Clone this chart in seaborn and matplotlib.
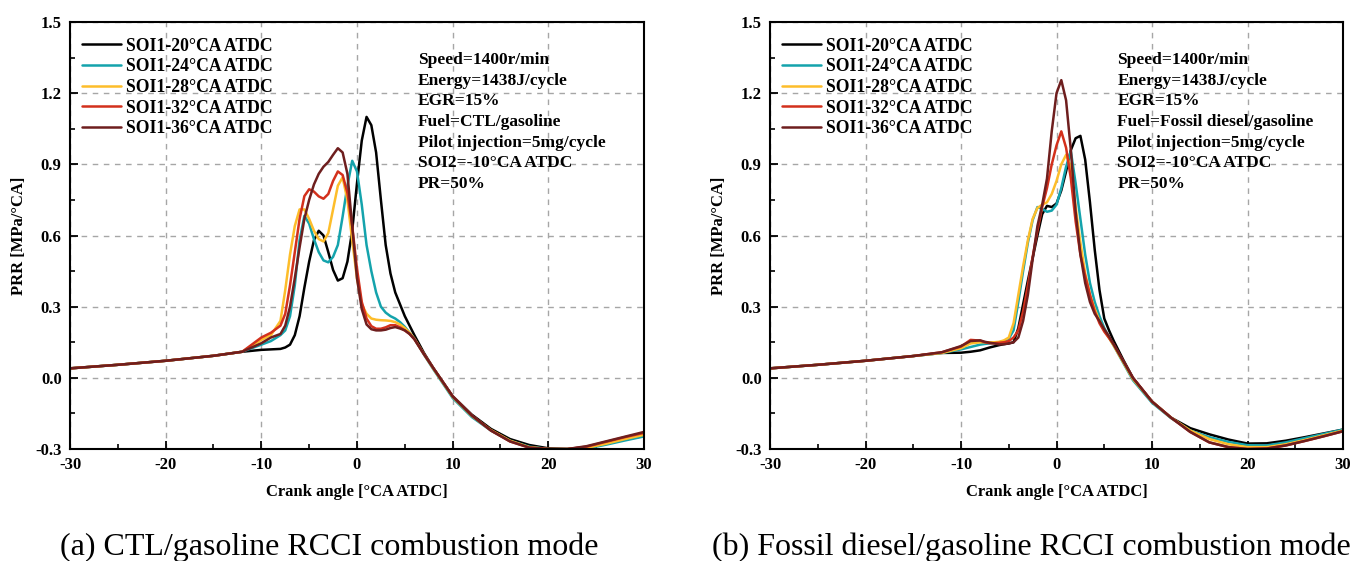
import numpy as np
import pandas as pd
import matplotlib
matplotlib.use("Agg")
import matplotlib.pyplot as plt
from matplotlib.ticker import MultipleLocator, AutoMinorLocator, FormatStrFormatter
import seaborn as sns

# ---------------- data ----------------
# crank angle grid: baseline segment, combustion segment, tail segment
x_base = [-30, -25, -20, -15, -12, -10, -9, -8]
x_peak = [-7.5, -7, -6.5, -6, -5.5, -5, -4.5, -4, -3.5, -3, -2.5, -2, -1.5, -1, -0.5,
          0, 0.5, 1, 1.5, 2, 2.5, 3, 3.5, 4, 4.5, 5, 5.5, 6]
x_tail = [7, 8, 10, 12, 14, 16, 18, 20, 22, 24, 26, 28, 30]
crank_angle = x_base + x_peak + x_tail

series_labels = ["SOI1-20°CA ATDC", "SOI1-24°CA ATDC", "SOI1-28°CA ATDC",
                 "SOI1-32°CA ATDC", "SOI1-36°CA ATDC"]

# (a) CTL/gasoline
ctl_soi20 = ([0.040, 0.055, 0.072, 0.093, 0.110, 0.118, 0.120, 0.122] +
             [0.128, 0.14, 0.18, 0.26, 0.38, 0.49, 0.58, 0.62, 0.60, 0.53, 0.455, 0.41, 0.42, 0.49,
              0.62, 0.82, 1.00, 1.10, 1.065, 0.95, 0.75, 0.56, 0.44, 0.36, 0.31, 0.26, 0.22, 0.18] +
             [0.105, 0.04, -0.077, -0.155, -0.215, -0.258, -0.283, -0.297, -0.30, -0.292, -0.275, -0.26, -0.245])
ctl_soi24 = ([0.040, 0.055, 0.072, 0.093, 0.110, 0.140, 0.155, 0.180] +
             [0.20, 0.26, 0.39, 0.58, 0.683, 0.65, 0.585, 0.53, 0.495, 0.487, 0.51, 0.56, 0.68, 0.81,
              0.915, 0.87, 0.73, 0.56, 0.45, 0.36, 0.30, 0.275, 0.26, 0.25, 0.235, 0.215, 0.19, 0.165] +
             [0.098, 0.035, -0.085, -0.165, -0.222, -0.265, -0.29, -0.30, -0.30, -0.298, -0.282, -0.264, -0.247])
ctl_soi28 = ([0.040, 0.055, 0.072, 0.093, 0.110, 0.160, 0.180, 0.240] +
             [0.37, 0.52, 0.64, 0.71, 0.71, 0.67, 0.62, 0.585, 0.575, 0.61, 0.71, 0.81, 0.845, 0.75,
              0.58, 0.42, 0.31, 0.27, 0.25, 0.245, 0.243, 0.242, 0.24, 0.235, 0.225, 0.21, 0.19, 0.165] +
             [0.10, 0.038, -0.08, -0.16, -0.22, -0.265, -0.292, -0.30, -0.30, -0.295, -0.278, -0.258, -0.24])
ctl_soi32 = ([0.040, 0.055, 0.072, 0.093, 0.110, 0.170, 0.190, 0.220] +
             [0.27, 0.39, 0.53, 0.67, 0.766, 0.795, 0.785, 0.765, 0.755, 0.775, 0.83, 0.87, 0.855, 0.78,
              0.64, 0.46, 0.32, 0.25, 0.218, 0.207, 0.207, 0.213, 0.222, 0.222, 0.213, 0.20, 0.185, 0.163] +
             [0.10, 0.04, -0.078, -0.158, -0.222, -0.268, -0.294, -0.30, -0.30, -0.29, -0.27, -0.25, -0.232])
ctl_soi36 = ([0.040, 0.055, 0.072, 0.093, 0.110, 0.146, 0.170, 0.185] +
             [0.22, 0.30, 0.42, 0.55, 0.67, 0.75, 0.815, 0.86, 0.89, 0.91, 0.94, 0.968, 0.95, 0.86,
              0.64, 0.42, 0.29, 0.225, 0.205, 0.20, 0.20, 0.203, 0.21, 0.214, 0.208, 0.20, 0.185, 0.163] +
             [0.10, 0.04, -0.078, -0.158, -0.222, -0.268, -0.294, -0.30, -0.30, -0.288, -0.268, -0.248, -0.228])

# (b) Fossil diesel/gasoline
fd_soi20 = ([0.040, 0.055, 0.072, 0.092, 0.105, 0.106, 0.110, 0.116] +
            [0.122, 0.128, 0.133, 0.138, 0.142, 0.145, 0.15, 0.21, 0.31, 0.41, 0.505, 0.60, 0.69, 0.725,
             0.72, 0.735, 0.79, 0.87, 0.96, 1.01, 1.02, 0.92, 0.74, 0.54, 0.37, 0.25, 0.20, 0.155] +
            [0.075, 0.0, -0.10, -0.168, -0.212, -0.238, -0.26, -0.277, -0.276, -0.265, -0.25, -0.234, -0.218])
fd_soi24 = ([0.040, 0.055, 0.072, 0.092, 0.105, 0.120, 0.130, 0.140] +
            [0.143, 0.145, 0.148, 0.15, 0.155, 0.165, 0.20, 0.32, 0.45, 0.57, 0.665, 0.72, 0.712, 0.70,
             0.705, 0.73, 0.80, 0.89, 0.955, 0.82, 0.67, 0.52, 0.40, 0.32, 0.26, 0.21, 0.17, 0.135] +
            [0.062, -0.01, -0.105, -0.17, -0.222, -0.25, -0.27, -0.284, -0.285, -0.272, -0.254, -0.236, -0.218])
fd_soi28 = ([0.040, 0.055, 0.072, 0.092, 0.105, 0.125, 0.145, 0.150] +
            [0.15, 0.15, 0.15, 0.152, 0.158, 0.17, 0.23, 0.35, 0.47, 0.58, 0.67, 0.716, 0.73, 0.74,
             0.775, 0.83, 0.90, 0.94, 0.89, 0.72, 0.57, 0.44, 0.35, 0.29, 0.24, 0.20, 0.168, 0.135] +
            [0.065, -0.005, -0.10, -0.168, -0.222, -0.258, -0.28, -0.292, -0.292, -0.28, -0.262, -0.242, -0.222])
fd_soi32 = ([0.040, 0.055, 0.072, 0.092, 0.108, 0.132, 0.160, 0.157] +
            [0.15, 0.146, 0.146, 0.148, 0.15, 0.155, 0.17, 0.20, 0.28, 0.39, 0.51, 0.62, 0.72, 0.80,
             0.90, 0.98, 1.039, 0.97, 0.84, 0.66, 0.52, 0.43, 0.35, 0.28, 0.23, 0.195, 0.168, 0.14] +
            [0.07, 0.0, -0.10, -0.168, -0.228, -0.272, -0.292, -0.30, -0.298, -0.285, -0.266, -0.246, -0.225])
fd_soi36 = ([0.040, 0.055, 0.072, 0.092, 0.108, 0.134, 0.155, 0.158] +
            [0.152, 0.148, 0.145, 0.141, 0.142, 0.145, 0.15, 0.17, 0.24, 0.35, 0.50, 0.64, 0.73, 0.84,
             1.04, 1.20, 1.255, 1.17, 0.96, 0.70, 0.52, 0.40, 0.32, 0.27, 0.24, 0.205, 0.175, 0.14] +
            [0.07, 0.0, -0.10, -0.168, -0.228, -0.272, -0.292, -0.30, -0.298, -0.285, -0.266, -0.246, -0.225])

ctl_series = [ctl_soi20, ctl_soi24, ctl_soi28, ctl_soi32, ctl_soi36]
fd_series = [fd_soi20, fd_soi24, fd_soi28, fd_soi32, fd_soi36]

conditions_a = ("Speed=1400r/min\nEnergy=1438J/cycle\nEGR=15%\nFuel=CTL/gasoline\n"
                "Pilot injection=5mg/cycle\nSOI2=-10°CA ATDC\nPR=50%")
conditions_b = ("Speed=1400r/min\nEnergy=1438J/cycle\nEGR=15%\nFuel=Fossil diesel/gasoline\n"
                "Pilot injection=5mg/cycle\nSOI2=-10°CA ATDC\nPR=50%")
caption_a = "(a) CTL/gasoline RCCI combustion mode"
caption_b = "(b) Fossil diesel/gasoline RCCI combustion mode"
x_label = "Crank angle [°CA ATDC]"
y_label = "PRR [MPa/°CA]"

colors = ["#000000", "#14A3AC", "#FDBD2A", "#D3301C", "#6E1E1E"]

# ---------------- style ----------------
sns.set_theme(style="white")
plt.rcParams["font.family"] = ["Liberation Serif", "DejaVu Serif"]
plt.rcParams["axes.unicode_minus"] = False
plt.rcParams["text.color"] = "black"
plt.rcParams["axes.labelcolor"] = "black"
plt.rcParams["xtick.color"] = "black"
plt.rcParams["ytick.color"] = "black"


def long_frame(series):
    rows = []
    for lab, ys in zip(series_labels, series):
        assert len(ys) == len(crank_angle), (lab, len(ys))
        for xv, yv in zip(crank_angle, ys):
            rows.append((xv, yv, lab))
    return pd.DataFrame(rows, columns=["x", "y", "series"])


fig = plt.figure(figsize=(13.54, 5.61), dpi=100)
ax_a = fig.add_axes([0.0517, 0.1996, 0.4239, 0.7612])
ax_b = fig.add_axes([0.5687, 0.1996, 0.4232, 0.7612])

for ax, series, cond in [(ax_a, ctl_series, conditions_a), (ax_b, fd_series, conditions_b)]:
    df = long_frame(series)
    sns.lineplot(data=df, x="x", y="y", hue="series", hue_order=series_labels,
                 palette=colors, estimator=None, sort=False, lw=1.8, ax=ax)
    ax.set_xlim(-30, 30)
    ax.set_ylim(-0.3, 1.5)
    ax.xaxis.set_major_locator(MultipleLocator(10))
    ax.xaxis.set_minor_locator(AutoMinorLocator(2))
    ax.yaxis.set_major_locator(MultipleLocator(0.3))
    ax.yaxis.set_minor_locator(AutoMinorLocator(2))
    ax.yaxis.set_major_formatter(FormatStrFormatter("%.1f"))
    ax.grid(True, which="major", linestyle=(0, (4, 4)), color="#a6a6a6", lw=1.0)
    ax.set_axisbelow(True)
    for sp in ax.spines.values():
        sp.set_color("black")
        sp.set_linewidth(1.5)
    ax.tick_params(which="major", direction="in", length=6, width=1.3, labelsize=12,
                   top=False, right=False, left=True, bottom=True, pad=6, colors="black")
    ax.tick_params(which="minor", direction="in", length=3.5, width=1.2,
                   top=False, right=False, left=True, bottom=True)
    for lab in ax.get_xticklabels() + ax.get_yticklabels():
        lab.set_fontweight("bold")
    ax.set_xlabel(x_label, fontsize=12, fontweight="bold", labelpad=8)
    ax.set_ylabel(y_label, fontsize=12, fontweight="bold", labelpad=6)
    ax.legend(loc="upper left", bbox_to_anchor=(-0.0055, 1.0), frameon=False,
              handlelength=2.2, handletextpad=0.3,
              labelspacing=0.21, borderaxespad=0.58, borderpad=0.3,
              prop={"weight": "bold", "size": 12.7, "family": ["Liberation Serif"]})
    ax.text(0.606, 0.930, cond, transform=ax.transAxes, ha="left", va="top",
            fontsize=12.5, fontweight="bold", linespacing=1.39)

fig.text(0.243, 0.025, caption_a, ha="center", va="center", fontsize=23)
fig.text(0.762, 0.025, caption_b, ha="center", va="center", fontsize=23)

fig.savefig("out.png", dpi=100)
